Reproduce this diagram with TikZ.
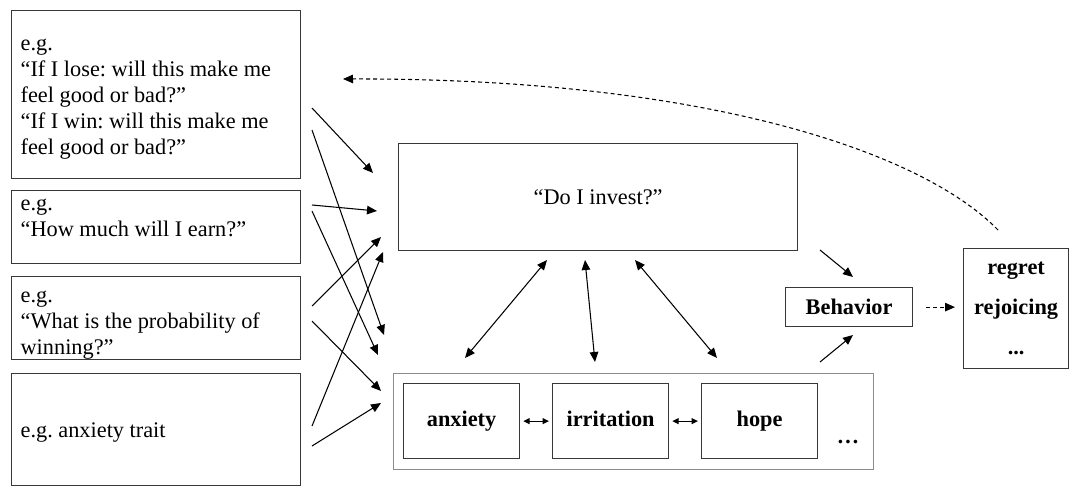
\documentclass[tikz,border=0pt]{standalone}
\usepackage{fontspec}
\setmainfont{Liberation Serif}
\usetikzlibrary{arrows.meta,positioning}
\definecolor{edgex}{HTML}{383838}
\definecolor{framex}{HTML}{8C8C8C}
\newcommand{\txt}{\fontsize{12.7}{14.8}\selectfont\frenchspacing}
\tikzset{
  ar/.style={-{Triangle[length=2mm,width=1.7mm]},line width=0.6pt},
  dar/.style={{Triangle[length=2mm,width=1.7mm]}-{Triangle[length=2mm,width=1.7mm]},line width=0.6pt},
  sar/.style={{Triangle[length=1.3mm,width=1.2mm]}-{Triangle[length=1.3mm,width=1.2mm]},line width=0.6pt,shorten <=0.6mm,shorten >=0.6mm},
  dsh/.style={-{Triangle[length=2mm,width=1.7mm]},line width=0.6pt,dash pattern=on 0.8mm off 0.6mm},
  qbox/.style={draw=edgex,line width=0.7pt,anchor=north west,align=flush left,inner xsep=1.8mm,text width=54.2mm,font=\txt,
    text height=0pt,text depth=#1},
  box/.style={draw=edgex,line width=0.7pt,anchor=north west,align=center,inner sep=0pt,font=\txt},
  emo/.style={box,minimum width=23.2mm,minimum height=15mm,text height=0.75em,text depth=0.1em,font=\txt\bfseries}
}

\begin{document}
\begin{tikzpicture}[x=0.2mm,y=-0.2mm]
\useasboundingbox (0,0) rectangle (1069,487);
% question boxes
\node[qbox=17.6mm,minimum height=33.6mm] (q1) at (11,10) {e.g.\\“If I lose: will this make me\\feel good or bad?”\\“If I win: will this make me\\feel good or bad?”};
\node[qbox=6.6mm,minimum height=14.6mm] (q2) at (11,190) {e.g.\\“How much will I earn?”};
\node[qbox=6.4mm,minimum height=16.6mm] (q3) at (11,276) {e.g.\\“What is the probability of\\winning?”};
\node[qbox=0pt,text height=3.2mm,minimum height=22.4mm] (q4) at (11,373) {e.g. anxiety trait};
% decision and emotions
\node[box,minimum width=79.8mm,minimum height=21.4mm] (inv) at (398,143) {“Do I invest?”};
\node[box,draw=framex,minimum width=96mm,minimum height=19.2mm] (emos) at (393,373) {};
\node[emo] (anx) at (403,383) {anxiety};
\node[emo] (irr) at (552,383) {irritation};
\node[emo] (hop) at (701,383) {hope};
\node[font=\txt\bfseries] (more) at (848,442) {…};
\node[box,minimum width=25.4mm,minimum height=7.8mm,font=\txt\bfseries] (beh) at (785,287) {Behavior};
\node[box,minimum width=21mm,minimum height=24mm,font=\fontsize{12.7}{22.7}\selectfont\bfseries] (reg) at (963,248) {regret\\rejoicing\\...};
% free ends of the connectors
\coordinate (a1) at (312,108); \coordinate (b1) at (373,173);
\coordinate (a2) at (312,130); \coordinate (b2) at (384,335);
\coordinate (a3) at (312,205); \coordinate (b3) at (377,211);
\coordinate (a4) at (312,211); \coordinate (b4) at (378,355);
\coordinate (a5) at (312,306); \coordinate (b5) at (381,237);
\coordinate (a6) at (312,321); \coordinate (b6) at (381,391);
\coordinate (a7) at (312,426); \coordinate (b7) at (383,252);
\coordinate (a8) at (312,446); \coordinate (b8) at (381,403);
\coordinate (u1) at (547,260); \coordinate (v1) at (465,358);
\coordinate (u2) at (585,260); \coordinate (v2) at (595,362);
\coordinate (u3) at (635,260); \coordinate (v3) at (717,358);
\coordinate (c1) at (820,250); \coordinate (d1) at (853,277);
\coordinate (c2) at (820,362); \coordinate (d2) at (853,335);
\coordinate (fb) at (998,230); \coordinate (fe) at (343,79);
% connectors
\foreach \i in {1,...,8}
  \draw[ar] (a\i) -- (b\i);
\foreach \i in {1,2,3}
  \draw[dar] (u\i) -- (v\i);
\draw[sar] (anx) -- (irr);
\draw[sar] (irr) -- (hop);
\draw[ar] (c1) -- (d1);
\draw[ar] (c2) -- (d2);
\draw[dsh,shorten <=2.6mm,shorten >=1.6mm] (beh.east) -- (beh.east -| reg.west);
\draw[dsh] (fb) .. controls (920,150) and (700,78) .. (fe);
\end{tikzpicture}
\end{document}
